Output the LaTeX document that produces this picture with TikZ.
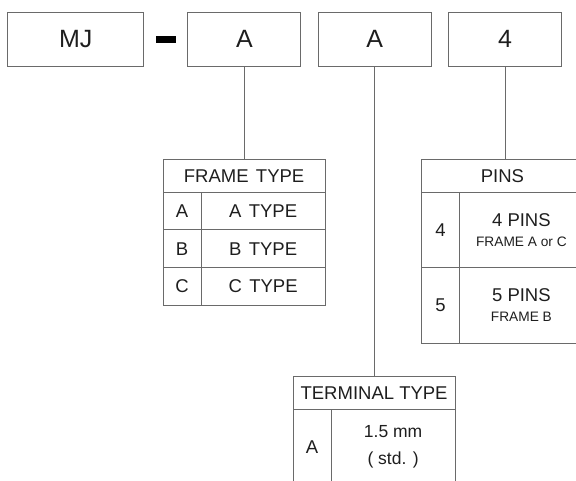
\documentclass[tikz,border=0pt]{standalone}
\usepackage{fontspec}
\setmainfont{Liberation Sans}
\definecolor{bordercol}{HTML}{6A6A6A}
\definecolor{textcol}{HTML}{1E1E1E}
\tikzset{
  topbox/.style={draw=bordercol, line width=0.9pt, minimum width=113pt, minimum height=54pt, inner sep=0pt, anchor=north west, text=textcol, font=\fontsize{25}{28}\selectfont},
  cell/.style={draw=bordercol, line width=0.8pt, inner sep=0pt, anchor=north west, text=textcol, font=\fontsize{18.5}{21}\selectfont, align=center},
  conn/.style={draw=bordercol, line width=0.8pt}
}
\begin{document}
\begin{tikzpicture}[x=1pt,y=-1pt]
\useasboundingbox (0,0) rectangle (576,480);
% top row
\node[topbox, minimum width=136pt] (mj) at (7.3,11.7) {MJ};
\node[fill=black, minimum width=20.7pt, minimum height=6.3pt, inner sep=0pt, anchor=north west] (dash) at (155.3,36) {};
\node[topbox] (b1) at (187.4,11.7) {A};
\node[topbox] (b2) at (317.8,11.7) {A};
\node[topbox] (b3) at (448.2,11.7) {4};
% frame type table
\node[cell, minimum width=162pt, minimum height=32.4pt] (fh) at (162.7,159.3) {FRAME\hspace{0.4em}TYPE};
\node[cell, minimum width=38pt, minimum height=37.6pt] (fa) at (162.7,191.7) {A};
\node[cell, minimum width=124pt, minimum height=37.6pt] (fat) at (200.7,191.7) {A\hspace{0.4em}TYPE};
\node[cell, minimum width=38pt, minimum height=38pt] (fb) at (162.7,229.3) {B};
\node[cell, minimum width=124pt, minimum height=38pt] (fbt) at (200.7,229.3) {B\hspace{0.4em}TYPE};
\node[cell, minimum width=38pt, minimum height=37.7pt] (fc) at (162.7,267.3) {C};
\node[cell, minimum width=124pt, minimum height=37.7pt] (fct) at (200.7,267.3) {C\hspace{0.4em}TYPE};
% pins table
\node[cell, minimum width=162pt, minimum height=32.4pt] (ph) at (421,159.3) {PINS};
\node[cell, minimum width=38pt, minimum height=75.6pt] (p4) at (421,191.7) {4};
\node[cell, minimum width=124pt, minimum height=75.6pt] (p4t) at (459,191.7) {4 PINS\\[-1pt]{\fontsize{13.7}{16}\selectfont FRAME A or C}};
\node[cell, minimum width=38pt, minimum height=75.4pt] (p5) at (421,267.3) {5};
\node[cell, minimum width=124pt, minimum height=75.4pt] (p5t) at (459,267.3) {5 PINS\\[-1pt]{\fontsize{13.7}{16}\selectfont FRAME B}};
% terminal type table
\node[cell, minimum width=162pt, minimum height=33.3pt] (th) at (292.7,376) {TERMINAL TYPE};
\node[cell, minimum width=38pt, minimum height=75pt] (ta) at (292.7,409.3) {A};
\node[cell, minimum width=124pt, minimum height=75pt, font=\fontsize{17.5}{21}\selectfont] (tat) at (330.7,409.3) {1.5 mm\\[6pt]( std. )};
% connectors
\draw[conn] (b1.south) -- (b1.south |- fh.north);
\draw[conn] (b2.south) -- (b2.south |- th.north);
\draw[conn] (b3.south) -- (b3.south |- ph.north);
\end{tikzpicture}
\end{document}
